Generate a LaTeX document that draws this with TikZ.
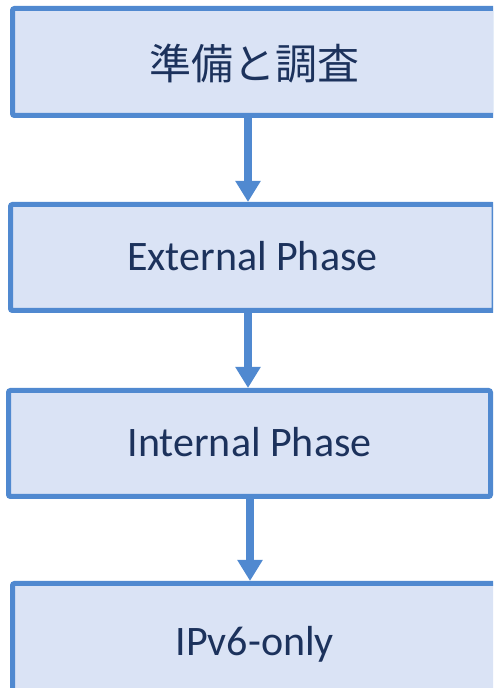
\documentclass[tikz,border=0pt]{standalone}
\usepackage{fontspec}
\setmainfont{Carlito}
\newfontfamily\jpfont{Noto Sans CJK JP}
\usetikzlibrary{arrows.meta}
\definecolor{edgeblue}{RGB}{80,137,208}
\definecolor{boxfill}{RGB}{218,227,245}
\definecolor{inktext}{RGB}{28,50,92}
\tikzset{
  stagebox/.style={draw=edgeblue, fill=boxfill, line width=5pt, rounded corners=2pt,
    inner sep=0pt, text=inktext, font=\fontsize{42}{48}\selectfont,
    text height=27pt, text depth=0pt},
  flow/.style={draw=edgeblue, line width=8.5pt,
    -{Triangle[width=24pt,length=21pt]}}
}
\begin{document}
\begin{tikzpicture}[x=1pt,y=1pt]
\useasboundingbox (0,0) rectangle (493,688);
\clip (0,0) rectangle (493,688);
\node[stagebox, minimum width=483pt, minimum height=107pt] (b1) at (254,626) {\raisebox{-4pt}{\jpfont 準備と調査}};
\node[stagebox, minimum width=483.5pt, minimum height=106pt] (b2) at (252.25,430.5) {External Phase};
\node[stagebox, minimum width=482pt, minimum height=106pt] (b3) at (249.5,244.5) {Internal Phase};
\node[stagebox, minimum width=484.5pt, minimum height=116.5pt] (b4) at (254.75,46.25) {IPv6-only};
\draw[flow] ([xshift=-6pt]b1.south) -- ([xshift=-6pt]b1.south |- b2.north);
\draw[flow] ([xshift=-4.25pt]b2.south) -- ([xshift=-4.25pt]b2.south |- b3.north);
\draw[flow] ([xshift=0.5pt]b3.south) -- ([xshift=0.5pt]b3.south |- b4.north);
\end{tikzpicture}
\end{document}
